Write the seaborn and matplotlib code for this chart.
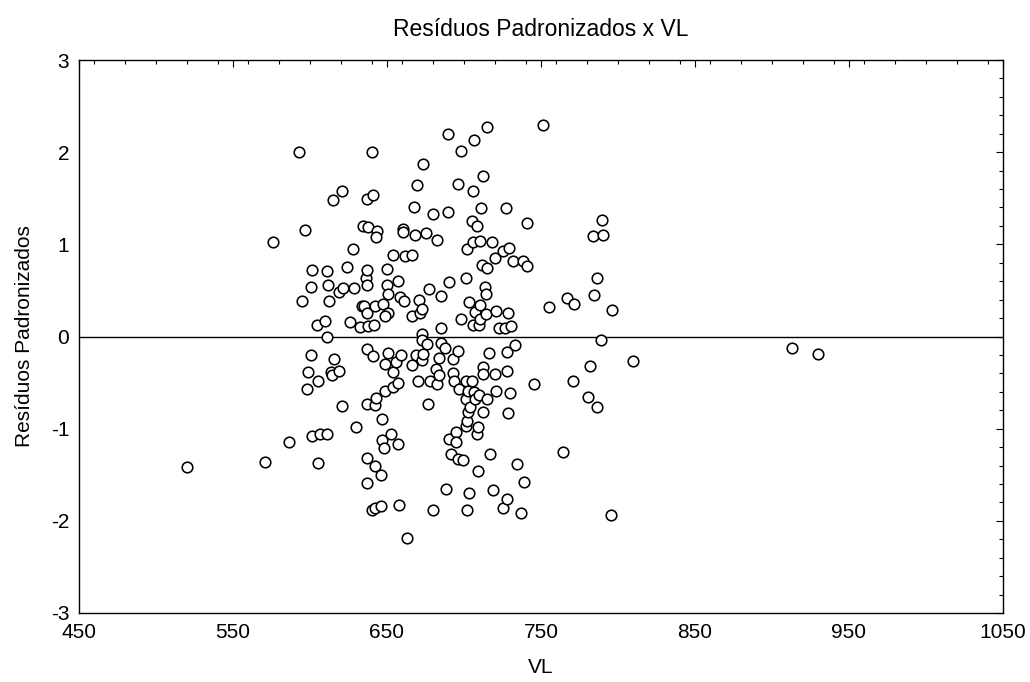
import matplotlib
matplotlib.use("Agg")
import matplotlib.pyplot as plt
import seaborn as sns
import pandas as pd
from matplotlib.ticker import MultipleLocator

vl = [520, 570.6, 576.2, 586.4, 593.1, 594.6, 596.8, 597.9, 598.9, 600.5,
      601.1, 600.7, 601.1, 604.8, 605.4, 605.4, 606.5, 610.8, 609.8, 611.3,
      611.5, 611.3, 612.4, 613.9, 614.3, 614.7, 615.6, 619.0, 619.0, 620.8,
      621.6, 620.6, 623.8, 626.0, 628.1, 628.8, 629.9, 632.5, 633.6, 634.2,
      634.8, 636.4, 636.8, 637.2, 637.2, 637.5, 636.8, 637.2, 637.9, 636.8,
      637.2, 636.8, 640.1, 640.7, 640.7, 641.8, 642.0, 642.2, 642.6, 642.2,
      640.1, 642.2, 643.3, 642.9, 645.8, 647.0, 646.6, 648.1, 646.0, 650.2,
      650.2, 650.9, 647.6, 650.9, 648.7, 650.9, 648.7, 648.7, 652.6, 654.2,
      654.1, 654.0, 655.9, 657.4, 657.4, 657.4, 658.0, 658.5, 658.9, 660.2,
      660.2, 661.7, 661.1, 663.2, 666.1, 666.0, 666.0, 667.5, 668.2, 669.7,
      669.1, 670.3, 671.0, 671.4, 672.6, 672.6, 672.6, 672.6, 673.3, 673.6,
      675.4, 675.8, 676.8, 677.5, 677.9, 680.1, 680.1, 681.8, 682.3, 682.4,
      684.0, 684.0, 684.9, 684.9, 684.9, 687.7, 688.1, 689.8, 689.8, 690.4,
      690.5, 691.6, 692.7, 692.7, 693.5, 694.8, 694.8, 695.9, 696.1, 696.6,
      696.4, 697.9, 697.9, 699.2, 701.1, 701.5, 701.5, 701.3, 702.2, 702.2,
      702.2, 702.4, 702.8, 703.5, 703.5, 703.9, 705.2, 705.6, 705.6, 705.1,
      706.1, 706.3, 706.7, 707.0, 707.2, 708.3, 708.2, 708.9, 709.3, 709.9,
      709.9, 710.4, 710.4, 710.4, 710.9, 711.5, 712.6, 712.6, 712.3, 712.2,
      713.7, 714.3, 714.3, 714.8, 715.2, 715.0, 716.5, 716.9, 718.0, 719.1,
      720.2, 720.2, 720.8, 720.8, 722.8, 725.5, 725.5, 727.3, 726.6, 727.8,
      727.8, 727.8, 728.8, 728.8, 729.4, 729.9, 730.5, 732.0, 733.1, 734.2,
      736.8, 738.1, 739.0, 740.8, 740.8, 745.2, 751.1, 755.2, 764.1, 767.1,
      770.6, 771.5, 780.7, 781.9, 783.5, 784.7, 786.6, 786.6, 788.7, 789.8,
      790.5, 795.3, 796.3, 810, 913, 930]

residuos = [-1.42, -1.36, 1.02, -1.15, 2.00, 0.39, 1.16, -0.57, -0.39, -0.20,
            0.72, 0.54, -1.08, 0.13, -0.48, -1.37, -1.06, -1.06, 0.17, 0.71,
            0.56, 0.00, 0.38, -0.39, -0.42, 1.48, -0.24, -0.37, 0.48, 1.58,
            0.53, -0.75, 0.75, 0.16, 0.95, 0.53, -0.98, 0.10, 0.33, 1.20,
            0.33, 0.64, 0.56, 0.72, 0.26, 0.11, -0.14, 1.49, 1.19, -0.73,
            -1.32, -1.59, 2.00, 1.54, -0.21, 0.13, 0.33, -0.74, -0.67, -1.41,
            -1.88, -1.86, 1.14, 1.08, -1.84, -0.89, -1.12, -1.21, -1.50, 0.73,
            0.56, 0.46, 0.35, 0.26, 0.22, -0.18, -0.30, -0.59, -1.06, 0.88,
            -0.39, -0.55, -0.28, 0.60, -0.50, -1.17, -1.83, 0.43, -0.20, 1.17,
            1.13, 0.87, 0.39, -2.19, 0.88, 0.22, -0.31, 1.41, 1.10, 1.64,
            -0.20, -0.48, 0.40, 0.26, 0.30, 0.03, -0.04, -0.26, -0.19, 1.87,
            1.12, -0.08, -0.73, 0.52, -0.48, 1.33, -1.88, -0.35, 1.05, -0.52,
            -0.23, -0.42, 0.44, 0.09, -0.07, -0.13, -1.66, 2.20, 1.35, 0.59,
            -1.11, -1.27, -0.24, -0.40, -0.48, -1.04, -1.14, -0.16, 1.66, -0.57,
            -1.33, 2.01, 0.19, -1.34, 0.64, -0.48, -0.68, -0.97, 0.95, -0.92,
            -1.88, -0.59, -0.82, 0.37, -1.70, -0.76, 1.25, 1.03, 0.12, -0.48,
            1.58, -0.60, 2.13, -0.68, 0.27, 1.20, -1.06, -1.46, -0.98, 0.12,
            -0.63, 1.04, 0.34, 0.19, 1.39, 0.78, 1.74, -0.33, -0.41, -0.82,
            0.54, 0.46, 0.24, 2.27, 0.74, -0.68, -0.18, -1.27, 1.02, -1.67,
            0.85, -0.41, 0.28, -0.59, 0.09, 0.93, -1.86, 1.39, 0.09, -0.17,
            -0.37, -1.76, 0.25, -0.83, 0.96, -0.61, 0.11, 0.82, -0.09, -1.38,
            -1.92, 0.82, -1.58, 1.23, 0.77, -0.51, 2.29, 0.32, -1.25, 0.42,
            -0.48, 0.35, -0.66, -0.32, 1.09, 0.45, 0.64, -0.76, -0.04, 1.26,
            1.10, -1.94, 0.29, -0.27, -0.12, -0.19]

x_ticks = [450, 550, 650, 750, 850, 950, 1050]
y_ticks = [-3, -2, -1, 0, 1, 2, 3]

sns.set_theme(style="white")
plt.rcParams['font.family'] = ['Liberation Sans', 'DejaVu Sans']
plt.rcParams['axes.unicode_minus'] = False

W, H = 1030, 682
fig = plt.figure(figsize=(W / 100, H / 100), dpi=100)
ax = fig.add_axes([79 / W, 1 - 613 / H, (1003 - 79) / W, (613 - 60) / H])

df = pd.DataFrame({"VL": vl, "Resíduos Padronizados": residuos})
sns.scatterplot(data=df, x="VL", y="Resíduos Padronizados", ax=ax,
                marker="o", s=58, facecolor="white", edgecolor="black",
                linewidth=1.15, zorder=3)
ax.axhline(0, color="black", lw=1, zorder=2)

ax.set_xlim(450, 1050)
ax.set_ylim(-3, 3)
ax.set_xticks(x_ticks)
ax.set_yticks(y_ticks)
ax.xaxis.set_minor_locator(MultipleLocator(20))
ax.yaxis.set_minor_locator(MultipleLocator(0.2))
ax.tick_params(which="both", direction="in", top=True, right=True,
               color="black", width=0.8)
ax.tick_params(which="major", length=5, labelsize=15, pad=7, labelcolor="black")
ax.tick_params(which="minor", length=3)
for sp in ax.spines.values():
    sp.set_color("black")
    sp.set_linewidth(1)

ax.set_xlabel("VL", fontsize=15, labelpad=12, color="black")
ax.set_ylabel("Resíduos Padronizados", fontsize=15, labelpad=12, color="black")
ax.set_title("Resíduos Padronizados x VL", fontsize=16.5, pad=17, color="black")

fig.savefig("out.png", dpi=100)
